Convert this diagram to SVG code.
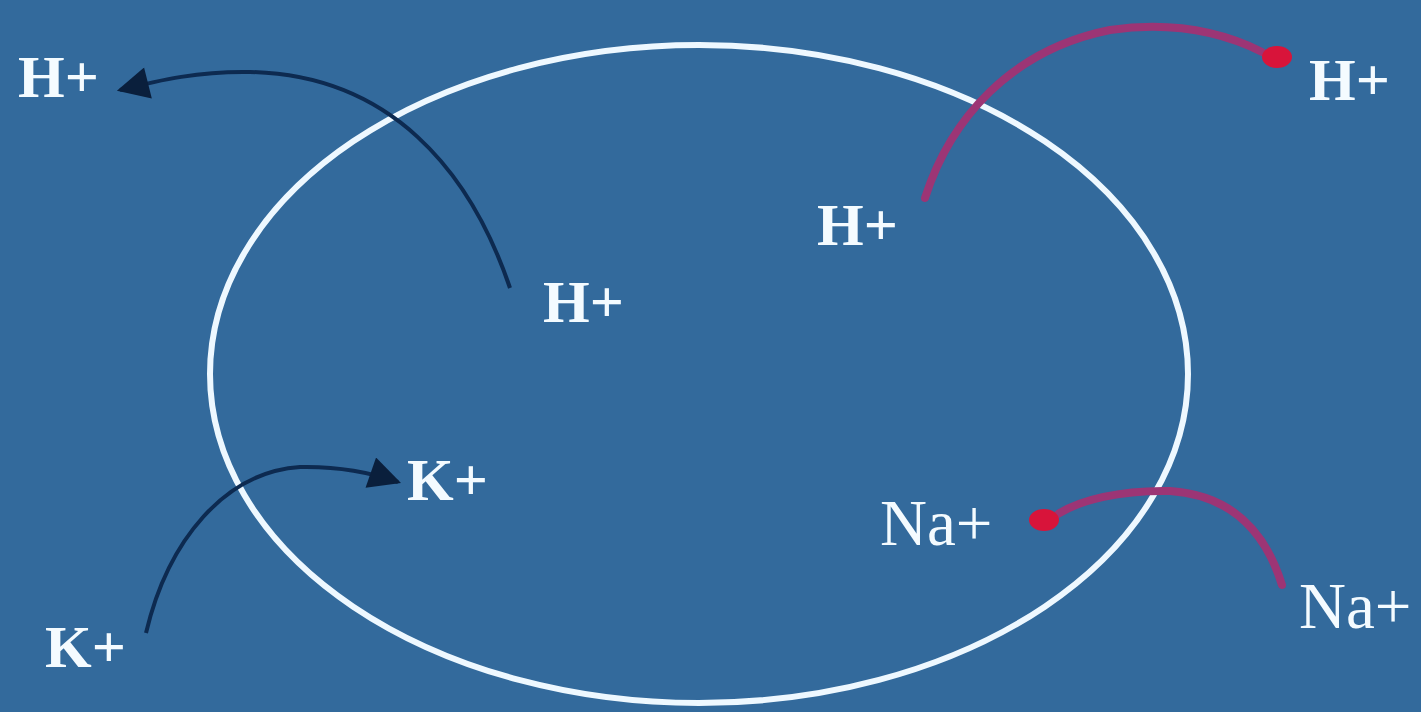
<svg xmlns="http://www.w3.org/2000/svg" width="1421" height="712" viewBox="0 0 1421 712">
<defs>
<style>
.lbl{font-family:"Liberation Serif","Times New Roman",serif;font-size:60px;font-weight:bold;fill:#f4fbff}
.lblr{font-family:"Liberation Serif","Times New Roman",serif;font-size:65px;fill:#f4fbff}
.dark{fill:none;stroke:#0d2a50;stroke-width:4}
.red{fill:none;stroke:#9c3575;stroke-width:8;stroke-linecap:round}
</style>
<marker id="ah" viewBox="0 0 10 10" refX="9" refY="5" markerWidth="12" markerHeight="8" markerUnits="strokeWidth" orient="auto">
<path d="M0,0 L10,5 L0,10 z" fill="#0a1f3c"/>
</marker>
</defs>
<rect width="1421" height="712" fill="#336a9c"/>
<g id="cell">
<ellipse cx="699" cy="374" rx="489" ry="329" fill="none" stroke="#eef8ff" stroke-width="6"/>
</g>
<g id="connectors">
<path class="dark" d="M510,288 C470,170 390,75 250,72 C200,71 160,80 120,90" marker-end="url(#ah)"/>
<path class="dark" d="M146,633 C168,540 225,472 300,467 C345,466 375,474 398,482" marker-end="url(#ah)"/>
<path class="red" d="M925,198 C950,120 1010,50 1110,30 C1180,20 1230,36 1262,52"/>
<ellipse cx="1277" cy="57" rx="15" ry="11" fill="#d8143a"/>
<path class="red" d="M1282,585 C1265,530 1230,495 1170,491 C1120,490 1080,500 1058,514"/>
<ellipse cx="1044" cy="520" rx="15" ry="11" fill="#d8143a"/>
</g>
<g id="n1"><text class="lbl" x="18" y="97">H+</text></g>
<g id="n2"><text class="lbl" x="543" y="322">H+</text></g>
<g id="n3"><text class="lbl" x="817" y="245">H+</text></g>
<g id="n4"><text class="lbl" x="1309" y="100">H+</text></g>
<g id="n5"><text class="lbl" x="407" y="500">K+</text></g>
<g id="n6"><text class="lbl" x="45" y="667">K+</text></g>
<g id="n7"><text class="lblr" x="880" y="545">Na+</text></g>
<g id="n8"><text class="lblr" x="1299" y="628">Na+</text></g>
</svg>
